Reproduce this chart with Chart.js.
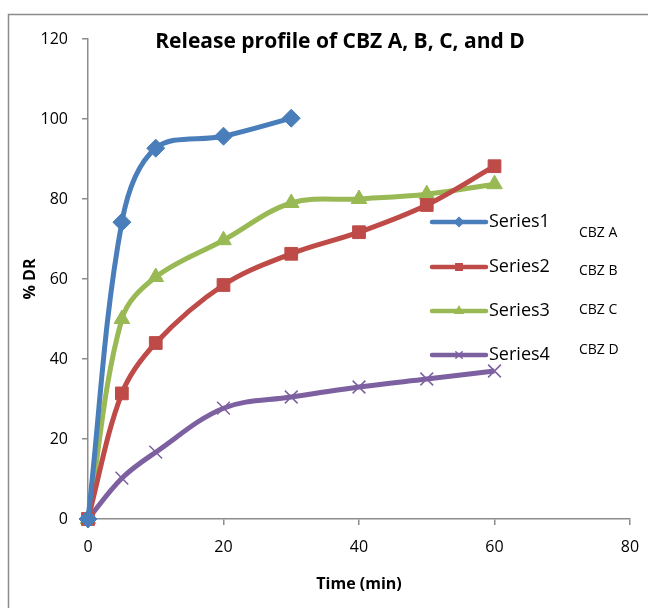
<!DOCTYPE html>
<html>
<head>
<meta charset="utf-8">
<script src="https://cdn.jsdelivr.net/npm/chart.js@4/dist/chart.umd.min.js"></script>
<style>
  body { margin: 0; background: #fff; }
  #wrap { width: 648px; height: 608px; }
</style>
</head>
<body>
<div id="wrap"><canvas id="chart" width="648" height="608"></canvas></div>
<script>
// data
const timesA = [0, 5, 10, 20, 30]
const timesBCD = [0, 5, 10, 20, 30, 40, 50, 60]
const cbzA = [0, 74.2, 92.7, 95.7, 100.2]
const cbzB = [0, 31.4, 44, 58.5, 66.3, 71.7, 78.5, 88.2]
const cbzC = [0, 50, 60.5, 69.7, 79, 80, 81.2, 83.7]
const cbzD = [0, 10.2, 16.7, 27.7, 30.5, 33, 35, 37]
const seriesNames = ['Series1', 'Series2', 'Series3', 'Series4']
const drugNames = ['CBZ A', 'CBZ B', 'CBZ C', 'CBZ D']
const xTicks = [0, 20, 40, 60, 80]
const yTicks = [0, 20, 40, 60, 80, 100, 120]

const colors = ['#4A7EBB', '#BE4B48', '#98B954', '#7D60A0']
const shapes = ['rectRot', 'rect', 'triangle', 'crossRot']

function pts(xs, ys) {
  return ys.map((y, i) => ({ x: xs[i], y: y }))
}

const allData = [pts(timesA, cbzA), pts(timesBCD, cbzB), pts(timesBCD, cbzC), pts(timesBCD, cbzD)]

const font = "'Open Sans', 'Noto Sans', sans-serif"

// frame, title and the in-plot legend
const decor = {
  id: 'decor',
  beforeDraw(chart) {
    const c = chart.ctx
    c.save()
    c.fillStyle = '#fff'
    c.fillRect(0, 0, chart.width, chart.height)
    c.strokeStyle = '#8c8c8c'
    c.lineWidth = 1.5
    c.strokeRect(8.5, 14.5, 700, 700)
    c.restore()
  },
  afterDatasetsDraw(chart) {
    const c = chart.ctx
    c.save()
    c.fillStyle = '#000'
    c.font = 'bold 21px ' + font
    c.textAlign = 'center'
    c.textBaseline = 'middle'
    c.fillText('Release profile of CBZ A, B, C, and D', 340, 42)

    const ly = [222, 267, 311, 355]
    const dy = [233, 271, 310, 350]
    chart.data.datasets.forEach((ds, i) => {
      c.strokeStyle = colors[i]
      c.lineWidth = 4.5
      c.lineCap = 'round'
      c.beginPath()
      c.moveTo(432, ly[i])
      c.lineTo(486, ly[i])
      c.stroke()
      c.fillStyle = colors[i]
      c.lineWidth = 1.5
      Chart.helpers.drawPoint(c, {
        pointStyle: shapes[i], radius: 4.5, borderWidth: 1.5
      }, 459, ly[i])
      c.fillStyle = '#000'
      c.font = '18px ' + font
      c.textAlign = 'left'
      c.fillText(seriesNames[i], 489, ly[i])
      c.font = '14px ' + font
      c.fillText(drugNames[i], 579, dy[i])
    })
    c.restore()
  }
}

new Chart(document.getElementById('chart'), {
  type: 'line',
  data: {
    datasets: allData.map((d, i) => ({
      label: seriesNames[i],
      data: d,
      borderColor: colors[i],
      backgroundColor: colors[i],
      borderWidth: 5,
      tension: 0.35,
      pointStyle: shapes[i],
      pointRadius: 9,
      pointBorderWidth: shapes[i] == 'crossRot' ? 1.5 : 1,
      pointBorderColor: colors[i],
      pointBackgroundColor: colors[i]
    }))
  },
  options: {
    responsive: false,
    animation: false,
    clip: false,
    layout: { padding: { left: 18, right: 18, top: 39, bottom: 10 } },
    plugins: {
      legend: { display: false },
      tooltip: { enabled: false }
    },
    scales: {
      x: {
        type: 'linear', min: 0, max: 80,
        afterBuildTicks: s => { s.ticks = xTicks.map(v => ({ value: v })) },
        afterFit: s => { s.height = 79; s.paddingRight = 0; s.paddingLeft = 0 },
        border: { color: '#8c8c8c', width: 1.5 },
        grid: { drawOnChartArea: false, tickLength: 6, color: '#8c8c8c', lineWidth: 1.5 },
        ticks: { color: '#000', font: { family: font, size: 16 }, padding: 13, maxRotation: 0 },
        title: { display: true, text: 'Time (min)', color: '#000', font: { family: font, size: 16, weight: 'bold' }, padding: { top: 2 } }
      },
      y: {
        type: 'linear', min: 0, max: 120,
        afterBuildTicks: s => { s.ticks = yTicks.map(v => ({ value: v })) },
        afterFit: s => { s.width = 70; s.paddingTop = 0; s.paddingBottom = 0 },
        border: { color: '#8c8c8c', width: 1.5 },
        grid: { drawOnChartArea: false, tickLength: 6, color: '#8c8c8c', lineWidth: 1.5 },
        ticks: { color: '#000', font: { family: font, size: 16 }, padding: 14 },
        title: { display: true, text: '% DR', color: '#000', font: { family: font, size: 16, weight: 'bold' }, padding: { top: 3, bottom: 0 } }
      }
    }
  },
  plugins: [decor]
})
</script>
</body>
</html>
